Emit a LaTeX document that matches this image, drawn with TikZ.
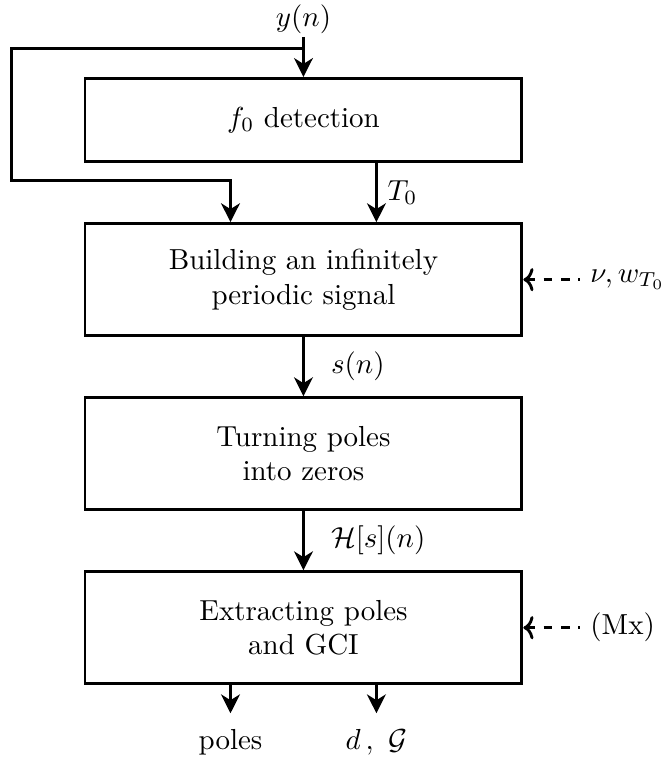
\documentclass[tikz,border=0pt]{standalone}
\usepackage{amsmath}
\usepackage{amsfonts}
\usepackage{tikz}
\usetikzlibrary{positioning,arrows.meta}

\begin{document}
\begin{tikzpicture}[
			      node distance=0.716cm,
			      block/.style={rectangle, draw, line width=1pt, minimum width=5.3cm, minimum height=1.36cm, align=center},
			      flow/.style={line width=1pt, -{Stealth[length=6.5pt,width=6.5pt,inset=2pt]}},
			      param/.style={line width=1pt, dashed, {To[length=3.5pt,width=8pt]}-}]
		      \useasboundingbox (-3.681,1.456) rectangle (4.361,-7.763);
		      % processing chain
		      \node[block, minimum height=1.01cm] (detect) at (0,0) {$f_0$ detection};
		      \node[block, below=of detect] (periodic) {Building an infinitely\\periodic signal};
		      \node[block, below=of periodic] (turning) {Turning poles\\into zeros};
		      \node[block, below=of turning] (extract) {Extracting poles\\and GCI};
		      % input and outputs
		      \node[inner sep=1pt, above=0.485cm of detect] (yn) {$y(n)$};
		      \coordinate (split) at ([yshift=0.35cm]detect.north);
		      \coordinate (corner) at ([xshift=-0.87cm]detect.west |- split);
		      \coordinate (back) at ([xshift=-0.885cm, yshift=0.5cm]periodic.north);
		      \node[anchor=north, inner ysep=5.5pt] (poles) at ([xshift=-0.885cm, yshift=-0.34cm]extract.south) {poles};
		      \node[anchor=north, inner ysep=5.5pt] (dg) at ([xshift=0.885cm, yshift=-0.34cm]extract.south) {$d\,,\ \mathcal{G}$};
		      % parameters
		      \node[anchor=west, right=0.69cm of periodic.east] (nu) {$\nu, w_{T_0}$};
		      \node[anchor=west, right=0.69cm of extract.east] (mx) {(Mx)};
		      % connections
		      \draw[flow] (yn.south) -- (detect.north);
		      \draw[flow] (split) -- (corner) |- (back) -- ([xshift=-0.885cm]periodic.north);
		      \draw[flow] ([xshift=0.885cm]detect.south) -- node[right] {$T_0$} ([xshift=0.885cm]periodic.north);
		      \draw[flow] (periodic) -- node[right=0.2cm] {$s(n)$} (turning);
		      \draw[flow] (turning) -- node[right=0.2cm] {$\mathcal{H}[s](n)$} (extract);
		      \draw[flow] ([xshift=-0.885cm]extract.south) -- (poles.north);
		      \draw[flow] ([xshift=0.885cm]extract.south) -- (dg.north);
		      \draw[param] (periodic.east) -- (nu.west);
		      \draw[param] (extract.east) -- (mx.west);
	      \end{tikzpicture}
\end{document}
